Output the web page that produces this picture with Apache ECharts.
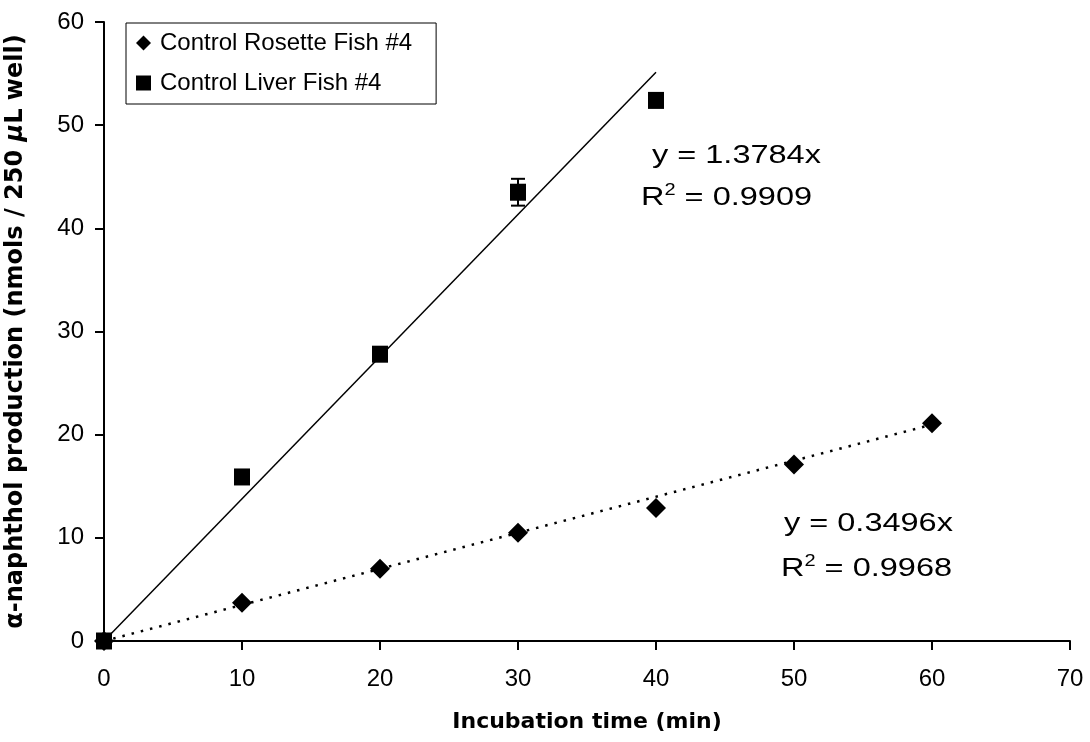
<!DOCTYPE html>
<html>
<head>
<meta charset="utf-8">
<script src="https://cdn.jsdelivr.net/npm/echarts@6/dist/echarts.min.js"></script>
<style>html,body{margin:0;padding:0;background:#fff}#c{width:1090px;height:742px}</style>
</head>
<body>
<div id="c"></div>
<script>
// ---- data ----
var xTicks = [0, 10, 20, 30, 40, 50, 60, 70];
var rosetteX = [0, 10, 20, 30, 40, 50, 60];
var rosetteY = [0, 3.7, 7.0, 10.5, 12.9, 17.1, 21.1];
var liverX = [0, 10, 20, 30, 40];
var liverY = [0, 15.9, 27.8, 43.5, 52.4];
var liverErr = [0, 0, 0, 1.3, 0.6];
var rosetteSlope = 0.3496, rosetteR2 = '0.9968';
var liverSlope = 1.3784, liverR2 = '0.9909';
var rosetteName = 'Control Rosette Fish #4';
var liverName = 'Control Liver Fish #4';

var font = 'Liberation Sans, Arial, sans-serif';
var boldFont = 'DejaVu Sans, Liberation Sans, sans-serif';
function pairs(xs, ys) { return xs.map(function (x, i) { return [x, ys[i]]; }); }
var liverErrData = liverX.map(function (x, i) { return [x, liverY[i] - liverErr[i], liverY[i] + liverErr[i]]; })
  .filter(function (d, i) { return liverErr[i] > 0; });

function eqText(left, top, str) {
  return { type: 'text', left: left, top: top, scaleX: 1.25, style: { text: str, font: '26px ' + font, fill: '#000' } };
}
function r2Text(left, top, val) {
  return { type: 'text', left: left, top: top, scaleX: 1.25, style: {
    text: '{a|R}{s|2}{a| = ' + val + '}',
    rich: {
      a: { font: '26px ' + font, fill: '#000', verticalAlign: 'bottom' },
      s: { font: '16px ' + font, fill: '#000', verticalAlign: 'top', padding: [0, 0, 12, 0] }
    } } };
}

var chart = echarts.init(document.getElementById('c'));
chart.setOption({
  backgroundColor: '#fff',
  animation: false,
  grid: { left: 104, right: 20, top: 22, bottom: 101, containLabel: false, outerBoundsMode: 'none' },
  legend: {
    orient: 'vertical', left: 126, top: 23,
    data: [{ name: rosetteName, icon: 'diamond' }, { name: liverName, icon: 'rect' }],
    borderColor: '#000', borderWidth: 1, padding: [8, 24, 9, 10],
    itemWidth: 15, itemHeight: 15, itemGap: 16,
    textStyle: { fontFamily: font, fontSize: 24, color: '#000', padding: [0, 0, 0, 4] }
  },
  xAxis: {
    type: 'value', min: 0, max: 70, interval: 10,
    name: 'Incubation time (min)', nameLocation: 'middle', nameGap: 70,
    nameTextStyle: { fontFamily: boldFont, fontSize: 22, fontWeight: 'bold', color: '#000' },
    axisLine: { show: true, onZero: false, lineStyle: { color: '#000', width: 2 } },
    axisTick: { show: true, inside: false, length: 9, lineStyle: { color: '#000', width: 2 } },
    axisLabel: { fontFamily: font, fontSize: 24, color: '#000', margin: 26 },
    splitLine: { show: false }
  },
  yAxis: {
    type: 'value', min: 0, max: 60, interval: 10,
    name: '{a|α-naphthol production (nmols / 250 }{i|μ}{a|L well)}',
    nameLocation: 'middle', nameGap: 76,
    nameTextStyle: {
      rich: {
        a: { fontFamily: boldFont, fontSize: 24, fontWeight: 'bold', color: '#000' },
        i: { fontFamily: boldFont, fontSize: 24, fontWeight: 'bold', fontStyle: 'italic', color: '#000' }
      }
    },
    axisLine: { show: true, onZero: false, lineStyle: { color: '#000', width: 2 } },
    axisTick: { show: true, inside: false, length: 9, lineStyle: { color: '#000', width: 2 } },
    axisLabel: { fontFamily: font, fontSize: 24, color: '#000', margin: 20 },
    splitLine: { show: false }
  },
  series: [
    {
      name: 'liverTrend', type: 'line', silent: true, symbol: 'none',
      data: [[0, 0], [liverX[liverX.length - 1], liverSlope * liverX[liverX.length - 1]]],
      lineStyle: { color: '#000', width: 1.5 }, z: 2
    },
    {
      name: 'rosetteTrend', type: 'line', silent: true, symbol: 'none',
      data: [[0, 0], [rosetteX[rosetteX.length - 1], rosetteSlope * rosetteX[rosetteX.length - 1]]],
      lineStyle: { color: '#000', width: 2.5, type: [2.5, 7] }, z: 2
    },
    {
      name: 'liverErr', type: 'custom', silent: true, z: 3,
      data: liverErrData,
      renderItem: function (params, api) {
        var x = api.value(0);
        var lo = api.coord([x, api.value(1)]);
        var hi = api.coord([x, api.value(2)]);
        var w = 7;
        var st = { stroke: '#000', lineWidth: 2, fill: null };
        return {
          type: 'group', children: [
            { type: 'line', shape: { x1: lo[0], y1: lo[1], x2: hi[0], y2: hi[1] }, style: st },
            { type: 'line', shape: { x1: lo[0] - w, y1: lo[1], x2: lo[0] + w, y2: lo[1] }, style: st },
            { type: 'line', shape: { x1: hi[0] - w, y1: hi[1], x2: hi[0] + w, y2: hi[1] }, style: st }
          ]
        };
      }
    },
    {
      name: rosetteName, type: 'scatter', symbol: 'diamond', symbolSize: 20,
      data: pairs(rosetteX, rosetteY), itemStyle: { color: '#000', opacity: 1 }, z: 4
    },
    {
      name: liverName, type: 'scatter', symbol: 'rect', symbolSize: [16, 17],
      data: pairs(liverX, liverY), itemStyle: { color: '#000', opacity: 1 }, z: 5
    }
  ],
  graphic: [
    eqText(652, 143, 'y = ' + liverSlope + 'x'),
    r2Text(641, 183, liverR2),
    eqText(784, 511, 'y = ' + rosetteSlope + 'x'),
    r2Text(781, 554, rosetteR2)
  ]
});
</script>
</body>
</html>
